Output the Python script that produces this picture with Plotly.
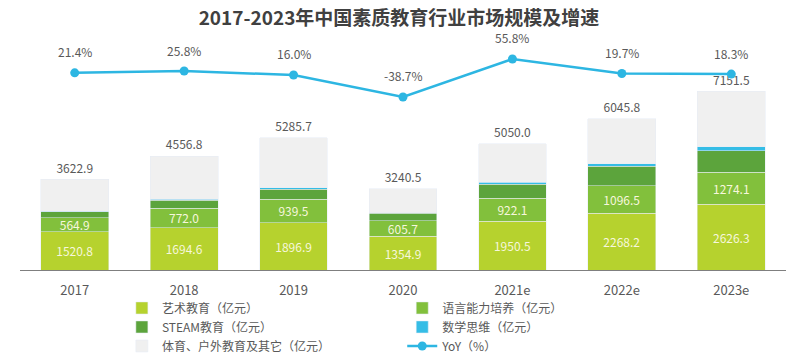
import plotly.graph_objects as go

years = ["2017", "2018", "2019", "2020", "2021e", "2022e", "2023e"]
art = [1520.8, 1694.6, 1896.9, 1354.9, 1950.5, 2268.2, 2626.3]
language = [564.9, 772.0, 939.5, 605.7, 922.1, 1096.5, 1274.1]
steam = [240, 330, 400, 300, 560, 780, 870]
math_thinking = [20, 30, 50, 20, 80, 100, 150]
sports_other = [1277.2, 1730.2, 1999.3, 959.9, 1537.4, 1801.1, 2231.1]
totals = [3622.9, 4556.8, 5285.7, 3240.5, 5050.0, 6045.8, 7151.5]
yoy = [21.4, 25.8, 16.0, -38.7, 55.8, 19.7, 18.3]

FONT = "Noto Sans CJK SC"
GRAY = "#595959"
inside_font = dict(family=FONT, size=12, color="#f7f7dc")

fig = go.Figure()

fig.add_trace(go.Bar(
    x=years, y=art, name="艺术教育（亿元）", marker_color="#b6d22e",
    text=[f"{v:.1f}" for v in art], textposition="inside", insidetextanchor="middle",
    textfont=inside_font, legend="legend", legendrank=1))
fig.add_trace(go.Bar(
    x=years, y=language, name="语言能力培养（亿元）", marker_color="#82c03c",
    text=[f"{v:.1f}" for v in language], textposition="inside", insidetextanchor="middle",
    textfont=inside_font, legend="legend2", legendrank=1))
fig.add_trace(go.Bar(
    x=years, y=steam, name="STEAM教育（亿元）", marker_color="#5ca43c",
    legend="legend", legendrank=2))
fig.add_trace(go.Bar(
    x=years, y=math_thinking, name="数学思维（亿元）", marker_color="#35bde6",
    legend="legend2", legendrank=2))
fig.add_trace(go.Bar(
    x=years, y=sports_other, name="体育、户外教育及其它（亿元）", marker_color="#f0f0f0",
    text=[f"{v:.1f}" for v in totals], textposition="outside", cliponaxis=False,
    textfont=dict(family=FONT, size=13, color=GRAY),
    legend="legend", legendrank=3))
fig.add_trace(go.Scatter(
    x=years, y=yoy, name="YoY（%）", yaxis="y2", mode="lines+markers",
    line=dict(color="#2db6e2", width=2.5), marker=dict(size=9, color="#2db6e2"),
    cliponaxis=False, legend="legend2", legendrank=3))

for i, v in enumerate(yoy):
    fig.add_annotation(x=i, xref="x", y=v, yref="y2", text=f"{v:.1f}%", showarrow=False,
                       yshift=21, font=dict(family=FONT, size=12, color=GRAY))

legend_common = dict(yref="container", xref="paper", yanchor="top", xanchor="left",
                     traceorder="normal", orientation="v",
                     font=dict(family=FONT, size=12, color=GRAY),
                     bgcolor="rgba(0,0,0,0)", tracegroupgap=0, itemwidth=30)

fig.update_layout(
    width=798, height=357,
    margin=dict(l=20, r=12, t=40, b=87),
    paper_bgcolor="white", plot_bgcolor="white",
    barmode="stack", bargap=0.38,
    uniformtext=dict(minsize=12, mode="show"),
    font=dict(family=FONT, size=12, color=GRAY),
    title=dict(text="<b>2017-2023年中国素质教育行业市场规模及增速</b>",
               x=0.5, xanchor="center", y=1 - 18 / 357, yanchor="middle",
               font=dict(family=FONT, size=19, color="#404040")),
    xaxis=dict(type="category", range=[-0.5, len(years) - 0.5], automargin=False,
               showline=True, linecolor="#7f7f7f", linewidth=1, ticks="",
               ticklabelstandoff=8,
               tickfont=dict(family=FONT, size=13, color=GRAY), showgrid=False),
    yaxis=dict(range=[0, 9200], visible=False, showgrid=False, automargin=False),
    yaxis2=dict(range=[-469, 103], overlaying="y", visible=False, showgrid=False,
                automargin=False),
    showlegend=True,
    legend=dict(x=0.133, y=0.178, **legend_common),
    legend2=dict(x=0.499, y=0.178, **legend_common),
)

fig.write_html("out.html", config={"displayModeBar": False},
               post_script="document.body.style.margin='0';")
